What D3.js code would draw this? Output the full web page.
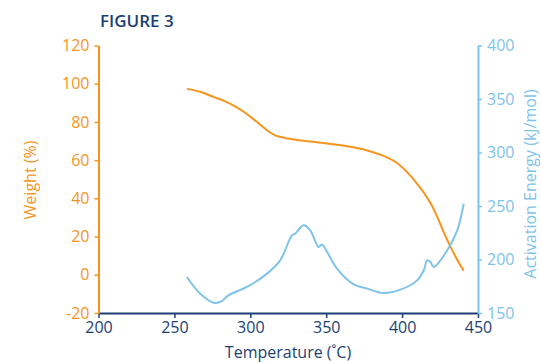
<!DOCTYPE html>
<html><head><meta charset="utf-8">
<script src="https://cdn.jsdelivr.net/npm/d3@7"></script>
<style>body{margin:0;background:#fff}svg{display:block}text{font-family:"Open Sans",sans-serif}</style>
</head><body><svg id="c" width="541" height="362"></svg>
<script>
const weightT = [258.2,267,275.7,283.4,290,296.6,303.2,309.8,316.4,323,330.7,352.7,370.3,385.7,396.7,407.7,418.7,429.7,436.3,440.6];
const weightV = [97.3,95.8,93.1,90.8,88.2,84.8,80.7,76.4,73.0,71.6,70.6,68.5,66.4,62.9,58.5,49.8,37.6,18.3,7.9,2.1];
const energyT = [258.2,267,276.8,281.3,285.6,297.8,311,319.7,327.4,329.5,335.1,339.5,345,347.2,349.4,357.1,368.1,376.9,387.9,398.9,409.9,414.3,416.5,418.7,420.8,429.7,436.3,440.6];
const energyV = [183.6,168.1,159.3,161.2,166.5,174.3,186.8,199.2,222.5,224.1,231.9,227.2,211.6,214.1,210.1,191.5,176.8,172.8,168.7,171.8,180.5,189.9,199.2,197.6,193,208.5,227.2,252.1];
const xTicks = [200,250,300,350,400,450];
const yLeftTicks = [-20,0,20,40,60,80,100,120];
const yRightTicks = [150,200,250,300,350,400];

const orange = "#f7941d", blue = "#7fc3ea", navy = "#1d3f73";
const svg = d3.select("#c");
const L = 98.5, R = 478, T = 45.5, B = 313;
const x = d3.scaleLinear().domain([200,450]).range([L,R]);
const yl = d3.scaleLinear().domain([-20,120]).range([B,T]);
const yr = d3.scaleLinear().domain([150,400]).range([B,T]);
const fmt = d => String(d);

const gx = svg.append("g").attr("transform",`translate(0,${B})`)
  .call(d3.axisBottom(x).tickValues(xTicks).tickFormat(fmt).tickSize(5).tickSizeOuter(0).tickPadding(4));
gx.select(".domain").attr("stroke",navy).attr("stroke-width",2);
gx.selectAll(".tick line").attr("stroke",navy).attr("stroke-width",1.5);
gx.selectAll("text").attr("fill",navy).attr("font-size",16);

const gl = svg.append("g").attr("transform",`translate(${L},0)`)
  .call(d3.axisLeft(yl).tickValues(yLeftTicks).tickFormat(fmt).tickSize(4).tickSizeOuter(0).tickPadding(5));
gl.select(".domain").attr("stroke",orange).attr("stroke-width",2);
gl.selectAll(".tick line").attr("stroke",orange).attr("stroke-width",1.5);
gl.selectAll("text").attr("fill",orange).attr("font-size",16);

const gr = svg.append("g").attr("transform",`translate(${R},0)`)
  .call(d3.axisRight(yr).tickValues(yRightTicks).tickFormat(fmt).tickSize(4).tickSizeOuter(0).tickPadding(5));
gr.select(".domain").attr("stroke",blue).attr("stroke-width",2);
gr.selectAll(".tick line").attr("stroke",blue).attr("stroke-width",1.5);
gr.selectAll("text").attr("fill",blue).attr("font-size",16);

const wl = d3.line().x(d=>x(d[0])).y(d=>yl(d[1])).curve(d3.curveCatmullRom.alpha(0.5));
const el = d3.line().x(d=>x(d[0])).y(d=>yr(d[1])).curve(d3.curveCatmullRom);
svg.append("path").datum(weightT.map((t,i)=>[t,weightV[i]])).attr("d",wl)
  .attr("fill","none").attr("stroke",orange).attr("stroke-width",2);
svg.append("path").datum(energyT.map((t,i)=>[t,energyV[i]])).attr("d",el)
  .attr("fill","none").attr("stroke",blue).attr("stroke-width",2);

svg.append("text").attr("x",100).attr("y",27).attr("fill",navy).attr("font-size",17)
  .attr("font-weight",600).text("FIGURE 3");
svg.append("text").attr("x",288).attr("y",358).attr("text-anchor","middle").attr("fill",navy)
  .attr("font-size",16).text("Temperature (˚C)");
svg.append("text").attr("transform","translate(36,180) rotate(-90)").attr("text-anchor","middle")
  .attr("fill",orange).attr("font-size",16).text("Weight (%)");
svg.append("text").attr("transform","translate(536,184) rotate(-90)").attr("text-anchor","middle")
  .attr("fill",blue).attr("font-size",16).text("Activation Energy (kJ/mol)");
</script></body></html>
